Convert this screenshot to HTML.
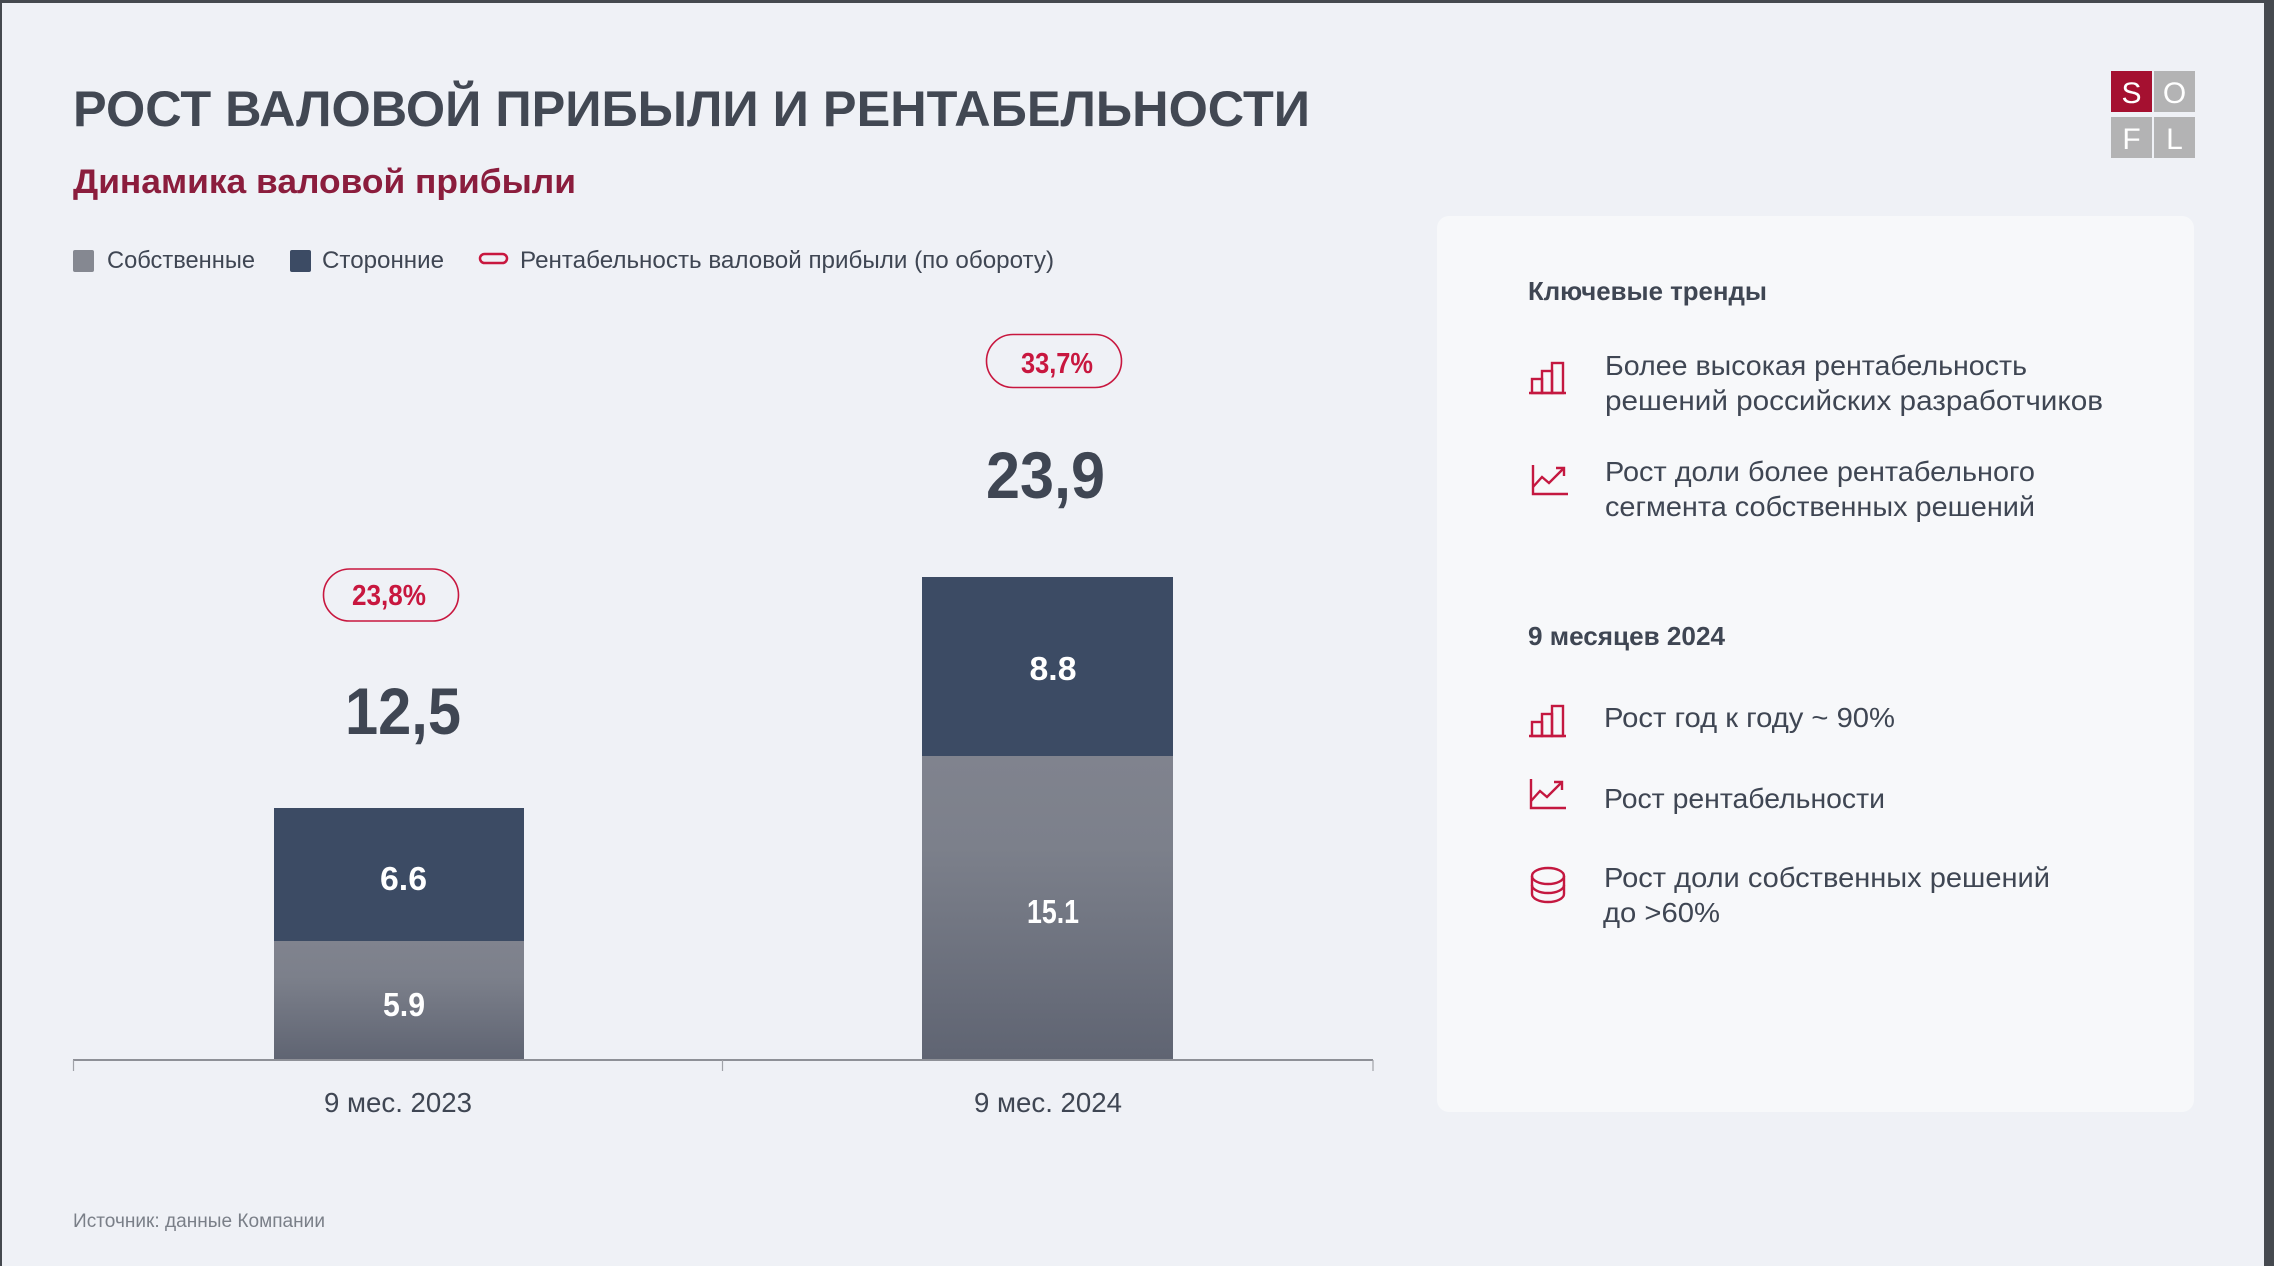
<!DOCTYPE html>
<html><head><meta charset="utf-8"><style>
html,body{margin:0;padding:0;background:#eff1f6;}
svg{display:block;}
text{font-family:"Liberation Sans","DejaVu Sans",sans-serif;}
</style></head><body>
<svg width="2274" height="1266" viewBox="0 0 2274 1266" xmlns="http://www.w3.org/2000/svg">
<defs>
<linearGradient id="gg" x1="0" y1="0" x2="0" y2="1">
<stop offset="0" stop-color="#80838e"/>
<stop offset="0.3" stop-color="#7c808b"/>
<stop offset="1" stop-color="#5f6472"/>
</linearGradient>
</defs>
<rect width="2274" height="1266" fill="#eff1f6"/>
<!-- frame -->
<rect x="0" y="0" width="2274" height="3" fill="#45494f"/>
<rect x="0" y="0" width="2" height="1266" fill="#45494f"/>
<rect x="2264" y="0" width="10" height="1266" fill="#45494f"/>

<!-- title -->
<text x="73" y="126" font-size="50" font-weight="bold" fill="#424853" textLength="1237" lengthAdjust="spacingAndGlyphs">РОСТ ВАЛОВОЙ ПРИБЫЛИ И РЕНТАБЕЛЬНОСТИ</text>
<text x="73" y="193" font-size="34" font-weight="bold" fill="#8b1d3d" textLength="503" lengthAdjust="spacingAndGlyphs">Динамика валовой прибыли</text>

<!-- logo -->
<rect x="2111" y="71" width="41" height="41" fill="#a51030"/>
<rect x="2154" y="71" width="41" height="41" fill="#b3b3b4"/>
<rect x="2111" y="117" width="41" height="41" fill="#b3b3b4"/>
<rect x="2154" y="117" width="41" height="41" fill="#b3b3b4"/>
<text x="2131.5" y="103" font-size="30" fill="#fff" text-anchor="middle">S</text>
<text x="2174.5" y="103" font-size="30" fill="#fff" text-anchor="middle">O</text>
<text x="2131.5" y="149" font-size="30" fill="#fff" text-anchor="middle">F</text>
<text x="2174.5" y="149" font-size="30" fill="#fff" text-anchor="middle">L</text>

<!-- legend -->
<rect x="73" y="250" width="21" height="22" rx="2" fill="#858891"/>
<text x="107" y="268" font-size="24" fill="#3f4653" textLength="148" lengthAdjust="spacingAndGlyphs">Собственные</text>
<rect x="290" y="250" width="21" height="22" rx="2" fill="#3c4b64"/>
<text x="322" y="268" font-size="24" fill="#3f4653" textLength="122" lengthAdjust="spacingAndGlyphs">Сторонние</text>
<rect x="480" y="254" width="27" height="9" rx="4.5" fill="none" stroke="#c8173f" stroke-width="2.5"/>
<text x="520" y="268" font-size="24" fill="#3f4653" textLength="534" lengthAdjust="spacingAndGlyphs">Рентабельность валовой прибыли (по обороту)</text>

<!-- bars -->
<rect x="274" y="941" width="250" height="119" fill="url(#gg)"/>
<rect x="274" y="808" width="250" height="133" fill="#3c4b64"/>
<rect x="922" y="756" width="251" height="304" fill="url(#gg)"/>
<rect x="922" y="577" width="251" height="179" fill="#3c4b64"/>

<!-- axis -->
<line x1="73" y1="1060" x2="1373" y2="1060" stroke="#8e9097" stroke-width="2"/>
<line x1="73.5" y1="1060" x2="73.5" y2="1071" stroke="#a0a2a8" stroke-width="1.2"/>
<line x1="722.5" y1="1060" x2="722.5" y2="1071" stroke="#a0a2a8" stroke-width="1.2"/>
<line x1="1373" y1="1060" x2="1373" y2="1071" stroke="#a0a2a8" stroke-width="1.2"/>

<!-- bar labels -->
<text x="403.5" y="890" font-size="33" font-weight="bold" fill="#fff" text-anchor="middle" textLength="47" lengthAdjust="spacingAndGlyphs">6.6</text>
<text x="404" y="1016" font-size="33" font-weight="bold" fill="#fff" text-anchor="middle" textLength="42" lengthAdjust="spacingAndGlyphs">5.9</text>
<text x="1053" y="680" font-size="33" font-weight="bold" fill="#fff" text-anchor="middle" textLength="47" lengthAdjust="spacingAndGlyphs">8.8</text>
<text x="1053" y="923" font-size="33" font-weight="bold" fill="#fff" text-anchor="middle" textLength="52" lengthAdjust="spacingAndGlyphs">15.1</text>

<!-- totals -->
<text x="403" y="734" font-size="66" font-weight="bold" fill="#3f4653" text-anchor="middle" textLength="116" lengthAdjust="spacingAndGlyphs">12,5</text>
<text x="1045.5" y="498" font-size="66" font-weight="bold" fill="#3f4653" text-anchor="middle" textLength="119" lengthAdjust="spacingAndGlyphs">23,9</text>

<!-- pills -->
<rect x="323.5" y="569" width="135" height="52" rx="26" fill="none" stroke="#c8173f" stroke-width="1.6"/>
<text x="389" y="605" font-size="29" font-weight="bold" fill="#c8173f" text-anchor="middle" textLength="74" lengthAdjust="spacingAndGlyphs">23,8%</text>
<rect x="986.5" y="334.5" width="135" height="53" rx="26.5" fill="none" stroke="#c8173f" stroke-width="1.6"/>
<text x="1057" y="373" font-size="29" font-weight="bold" fill="#c8173f" text-anchor="middle" textLength="72" lengthAdjust="spacingAndGlyphs">33,7%</text>

<!-- category labels -->
<text x="398" y="1112" font-size="28" fill="#3f4653" text-anchor="middle" textLength="148" lengthAdjust="spacingAndGlyphs">9 мес. 2023</text>
<text x="1048" y="1112" font-size="28" fill="#3f4653" text-anchor="middle" textLength="148" lengthAdjust="spacingAndGlyphs">9 мес. 2024</text>

<!-- footnote -->
<text x="73" y="1227" font-size="19" fill="#7a7f88" textLength="252" lengthAdjust="spacingAndGlyphs">Источник: данные Компании</text>

<!-- right panel -->
<rect x="1437" y="216" width="757" height="896" rx="12" fill="#f7f8fa"/>
<text x="1528" y="300" font-size="26" font-weight="bold" fill="#3f4653" textLength="239" lengthAdjust="spacingAndGlyphs">Ключевые тренды</text>

<g fill="none" stroke="#c41840" stroke-width="2.4">
<!-- bar icon 1 -->
<rect x="1532" y="379" width="10" height="14"/>
<rect x="1542" y="371" width="10" height="22"/>
<rect x="1552" y="363" width="11" height="30"/>
<line x1="1529" y1="393" x2="1566" y2="393"/>
<!-- line icon 1 -->
<polyline points="1533,465 1533,494 1568,494"/>
<polyline points="1533,487 1542,477 1549,483 1563,469"/>
<polyline points="1556,468 1564,468 1564,476"/>
<!-- bar icon 2 -->
<rect x="1532" y="722" width="10" height="14"/>
<rect x="1542" y="714" width="10" height="22"/>
<rect x="1552" y="706" width="11" height="30"/>
<line x1="1529" y1="736" x2="1566" y2="736"/>
<!-- line icon 2 -->
<polyline points="1531,779 1531,808 1566,808"/>
<polyline points="1531,801 1540,791 1547,797 1561,783"/>
<polyline points="1554,782 1562,782 1562,790"/>
<!-- database -->
<ellipse cx="1548" cy="876" rx="16" ry="8"/>
<path d="M1532 876 V894 A16 8 0 0 0 1564 894 V876"/>
<path d="M1532 885 A16 8 0 0 0 1564 885"/>
</g>

<text x="1605" y="375" font-size="28" fill="#3f4653" textLength="422" lengthAdjust="spacingAndGlyphs">Более высокая рентабельность</text>
<text x="1605" y="410" font-size="28" fill="#3f4653" textLength="498" lengthAdjust="spacingAndGlyphs">решений российских разработчиков</text>
<text x="1605" y="481" font-size="28" fill="#3f4653" textLength="430" lengthAdjust="spacingAndGlyphs">Рост доли более рентабельного</text>
<text x="1605" y="516" font-size="28" fill="#3f4653" textLength="430" lengthAdjust="spacingAndGlyphs">сегмента собственных решений</text>

<text x="1528" y="645" font-size="26" font-weight="bold" fill="#3f4653" textLength="197" lengthAdjust="spacingAndGlyphs">9 месяцев 2024</text>

<text x="1604" y="727" font-size="28" fill="#3f4653" textLength="291" lengthAdjust="spacingAndGlyphs">Рост год к году ~ 90%</text>
<text x="1604" y="808" font-size="28" fill="#3f4653" textLength="281" lengthAdjust="spacingAndGlyphs">Рост рентабельности</text>
<text x="1604" y="887" font-size="28" fill="#3f4653" textLength="446" lengthAdjust="spacingAndGlyphs">Рост доли собственных решений</text>
<text x="1603" y="922" font-size="28" fill="#3f4653" textLength="117" lengthAdjust="spacingAndGlyphs">до &gt;60%</text>
</svg>
</body></html>
